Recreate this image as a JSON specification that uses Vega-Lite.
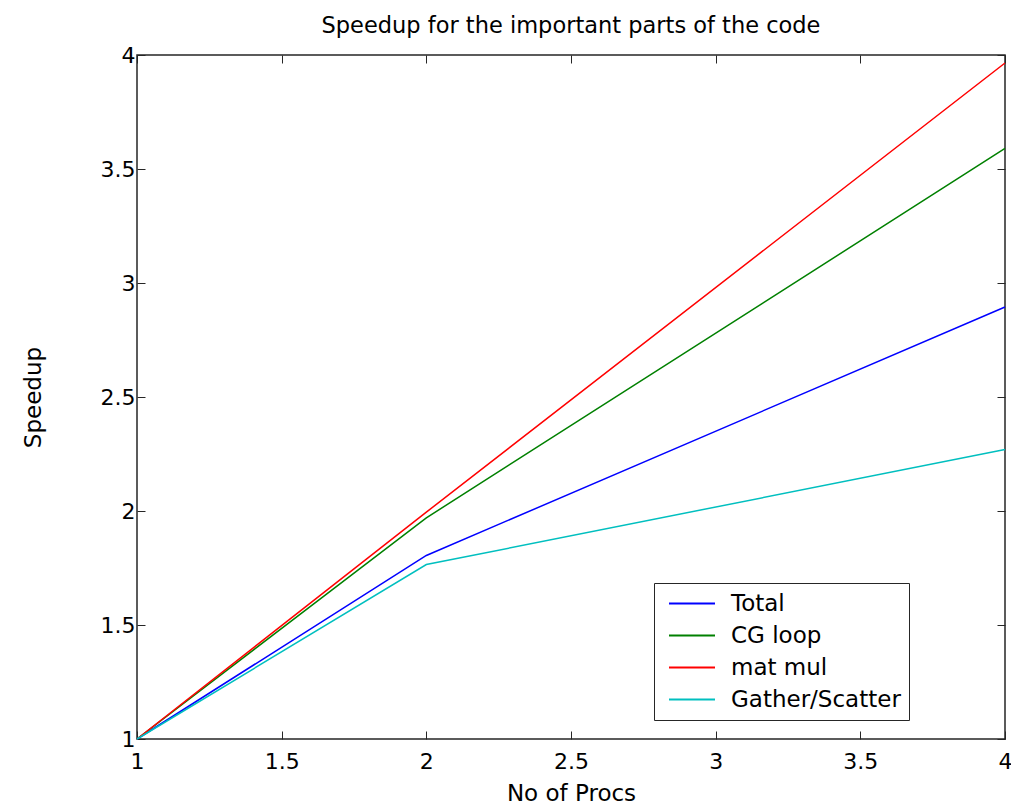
{
  "$schema": "https://vega.github.io/schema/vega-lite/v6.json",
  "autosize": {"type": "none"},
  "padding": {"left": 137, "top": 55, "right": 6, "bottom": 68},
  "width": 868,
  "height": 684,
  "background": "white",
  "title": {"text": "Speedup for the important parts of the code", "font": "DejaVu Sans", "fontSize": 22.5, "fontWeight": "normal", "color": "black", "offset": 7, "anchor": "middle"},
  "config": {"view": {"stroke": "#262626", "strokeWidth": 1.5}},
  "data": {"values": [
    {"procs": 1, "speedup": 1, "series": "Total"},
    {"procs": 2, "speedup": 1.805, "series": "Total"},
    {"procs": 4, "speedup": 2.895, "series": "Total"},
    {"procs": 1, "speedup": 1, "series": "CG loop"},
    {"procs": 2, "speedup": 1.97, "series": "CG loop"},
    {"procs": 4, "speedup": 3.59, "series": "CG loop"},
    {"procs": 1, "speedup": 1, "series": "mat mul"},
    {"procs": 2, "speedup": 1.995, "series": "mat mul"},
    {"procs": 4, "speedup": 3.965, "series": "mat mul"},
    {"procs": 1, "speedup": 1, "series": "Gather/Scatter"},
    {"procs": 2, "speedup": 1.765, "series": "Gather/Scatter"},
    {"procs": 4, "speedup": 2.27, "series": "Gather/Scatter"}
  ]},
  "layer": [
    {
      "mark": {"type": "line", "strokeWidth": 1.5},
      "encoding": {
        "x": {"field": "procs", "type": "quantitative", "scale": {"domain": [1, 4], "nice": false, "zero": false},
          "axis": {"title": "No of Procs", "values": [1, 1.5, 2, 2.5, 3, 3.5, 4], "format": "~g", "grid": false, "domain": false, "tickSize": -8, "tickColor": "#262626", "labelFont": "DejaVu Sans", "labelFontSize": 22, "labelColor": "black", "labelPadding": 20, "titleFont": "DejaVu Sans", "titleFontSize": 23, "titleFontWeight": "normal", "titleColor": "black", "titlePadding": 10, "labelFlush": false}},
        "y": {"field": "speedup", "type": "quantitative", "scale": {"domain": [1, 4], "nice": false, "zero": false},
          "axis": {"title": "Speedup", "values": [1, 1.5, 2, 2.5, 3, 3.5, 4], "format": "~g", "grid": false, "domain": false, "tickSize": -8, "tickColor": "#262626", "labelFont": "DejaVu Sans", "labelFontSize": 22, "labelColor": "black", "labelPadding": 10, "titleFont": "DejaVu Sans", "titleFontSize": 23, "titleFontWeight": "normal", "titleColor": "black", "titlePadding": 55, "labelFlush": false}},
        "color": {"field": "series", "type": "nominal",
          "scale": {"domain": ["Total", "CG loop", "mat mul", "Gather/Scatter"], "range": ["#0000ff", "#008000", "#ff0000", "#00bfbf"]},
          "legend": {"title": null, "orient": "none", "legendX": 517, "legendY": 528, "symbolType": "M-1,0H3", "symbolSize": 529, "symbolStrokeWidth": 2, "symbolOffset": 6, "labelFont": "DejaVu Sans", "labelFontSize": 23, "labelLimit": 400, "labelColor": "black", "rowPadding": 7, "padding": 8, "strokeColor": "#262626", "fillColor": "white", "labelOffset": 38}}
      }
    },
    {
      "mark": {"type": "line", "opacity": 0},
      "encoding": {
        "x": {"field": "procs", "type": "quantitative", "axis": {"orient": "top", "title": null, "labels": false, "values": [1, 1.5, 2, 2.5, 3, 3.5, 4], "grid": false, "domain": false, "tickSize": -8, "tickColor": "#262626"}},
        "y": {"field": "speedup", "type": "quantitative", "axis": {"orient": "right", "title": null, "labels": false, "values": [1, 1.5, 2, 2.5, 3, 3.5, 4], "grid": false, "domain": false, "tickSize": -8, "tickColor": "#262626"}},
        "detail": {"field": "series"}
      }
    }
  ],
  "resolve": {"axis": {"x": "independent", "y": "independent"}}
}
